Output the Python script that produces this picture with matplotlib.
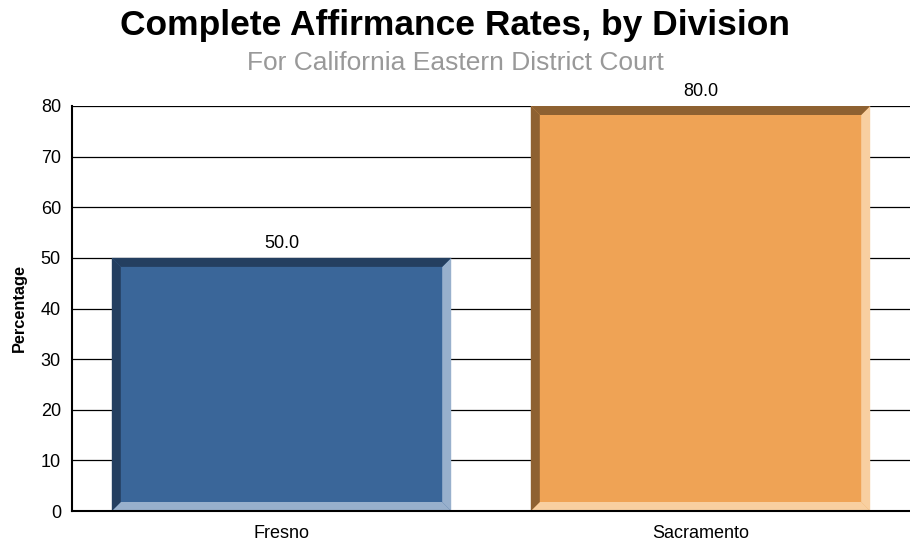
import numpy as np
import matplotlib.pyplot as plt
from matplotlib.patches import Polygon

divisions = ["Fresno", "Sacramento"]
rates = [50.0, 80.0]
face_colors = ["#3A6699", "#EFA355"]
dark_colors = ["#243F60", "#8E6131"]
light_colors = ["#98B0CC", "#F8CFA0"]
y_ticks = [0, 10, 20, 30, 40, 50, 60, 70, 80]

plt.rcParams['font.family'] = ['Liberation Sans', 'DejaVu Sans']

fig = plt.figure(figsize=(9.1, 5.46), dpi=100)
ax = fig.add_axes([72 / 910, 1 - 511 / 546, 838 / 910, 405 / 546])

ax.set_xlim(-0.5, 1.5)
ax.set_ylim(0, 80)
ax.set_yticks(y_ticks)
ax.set_xticks(range(len(divisions)))
ax.set_xticklabels(divisions)

for y in y_ticks[1:]:
    ax.axhline(y, color="black", lw=0.9, zorder=1)

bar_w = 0.81
# bevel size, ~9 px in each direction
bx = 9 * 2.0 / 838
by = 9 * 80.0 / 405

for i, val in enumerate(rates):
    x0, x1 = i - bar_w / 2, i + bar_w / 2
    y0, y1 = 0, val
    ax.add_patch(Polygon([(x0, y0), (x1, y0), (x1, y1), (x0, y1)],
                         closed=True, fc=face_colors[i], ec="none", zorder=2))
    left = [(x0, y0), (x0, y1), (x0 + bx, y1 - by), (x0 + bx, y0 + by)]
    right = [(x1, y0), (x1, y1), (x1 - bx, y1 - by), (x1 - bx, y0 + by)]
    top = [(x0, y1), (x1, y1), (x1 - bx, y1 - by), (x0 + bx, y1 - by)]
    bottom = [(x0, y0), (x1, y0), (x1 - bx, y0 + by), (x0 + bx, y0 + by)]
    ax.add_patch(Polygon(right, closed=True, fc=light_colors[i], ec="none", zorder=3))
    ax.add_patch(Polygon(bottom, closed=True, fc=light_colors[i], ec="none", zorder=3))
    ax.add_patch(Polygon(left, closed=True, fc=dark_colors[i], ec="none", zorder=3))
    ax.add_patch(Polygon(top, closed=True, fc=dark_colors[i], ec="none", zorder=3))
    ax.annotate(f"{val:.1f}", (i, val), xytext=(0, 4), textcoords="offset points",
                ha="center", va="bottom", fontsize=13)

for s in ["top", "right"]:
    ax.spines[s].set_visible(False)
ax.spines["left"].set_linewidth(1.5)
ax.spines["bottom"].set_linewidth(1.5)
ax.spines["bottom"].set_zorder(5)
ax.tick_params(axis="both", length=0, labelsize=13)
ax.tick_params(axis="y", pad=8)
ax.tick_params(axis="x", pad=10)

ax.set_ylabel("Percentage", fontsize=11.8, fontweight="bold", labelpad=10)

fig.text(0.5, 1 - 35 / 546, "Complete Affirmance Rates, by Division",
         ha="center", va="baseline", fontsize=25.5, fontweight="bold")
fig.text(0.5, 1 - 70 / 546, "For California Eastern District Court",
         ha="center", va="baseline", fontsize=19, color="#999999")

fig.savefig("out.png", dpi=100)
